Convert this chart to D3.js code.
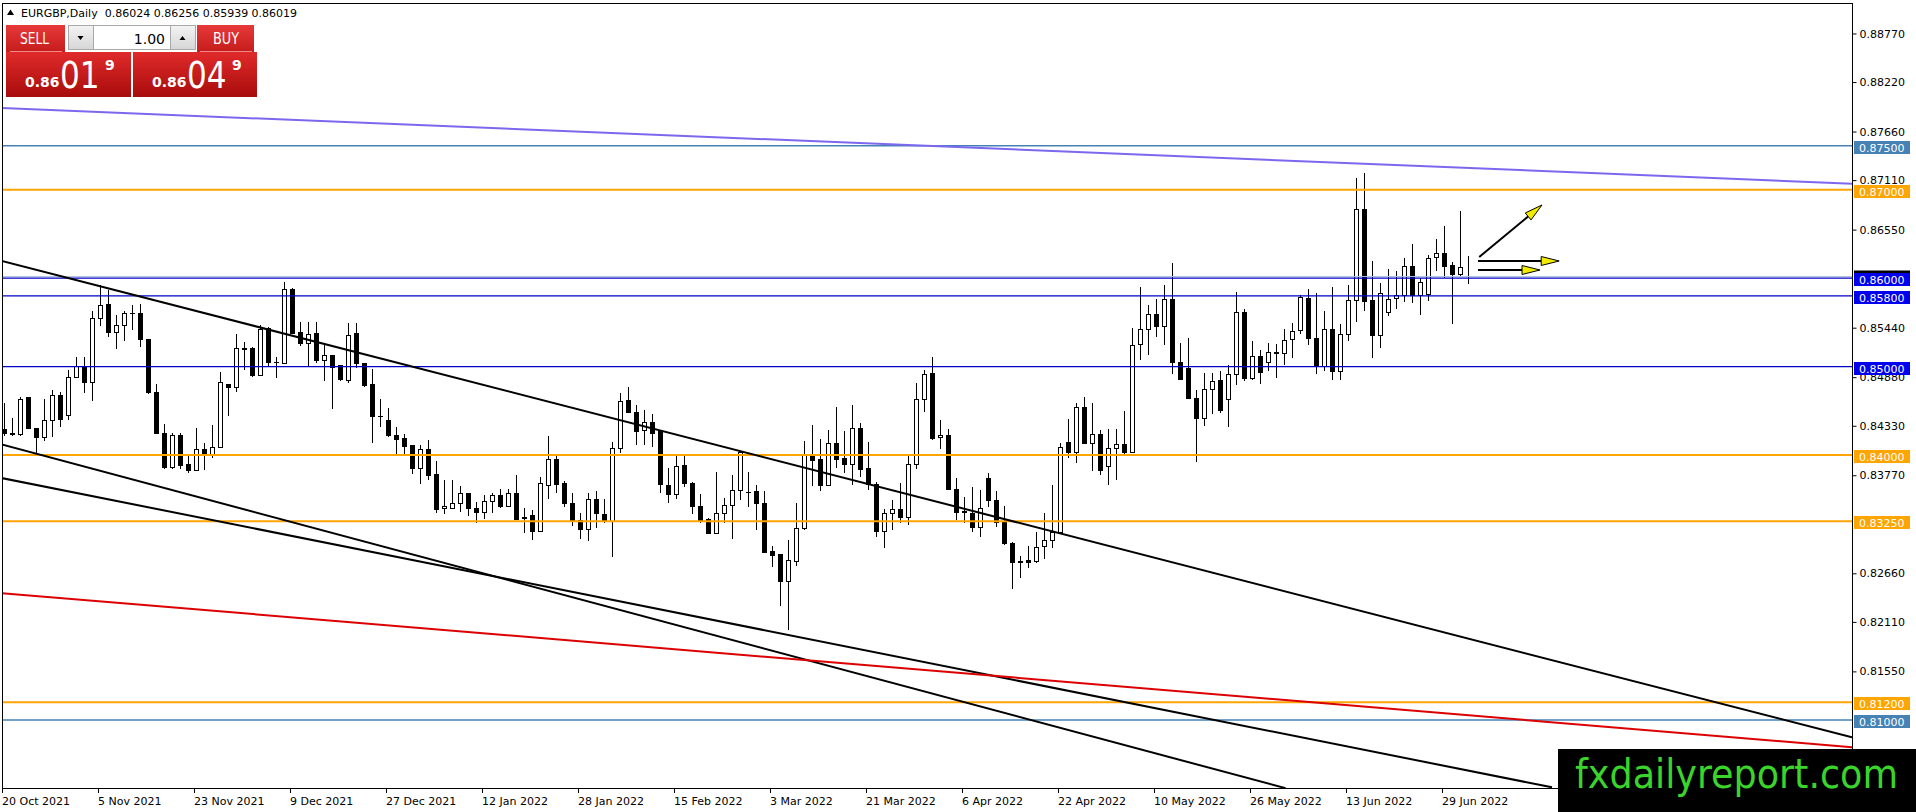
<html>
<head>
<meta charset="utf-8">
<script src="https://cdn.jsdelivr.net/npm/d3@7"></script>
<style>
  body { margin: 0; background: #fff; }
  svg { display: block; }
  text { font-family: "DejaVu Sans", sans-serif; }
</style>
</head>
<body>
<script>
// EURGBP daily bars
var opens = [0.84283,0.84234,0.84227,0.84645,0.84302,0.84200,0.84385,0.84675,0.84446,0.84879,
  0.85003,0.84819,0.85543,0.85697,0.85388,0.85467,0.85599,0.85599,0.85309,0.84706,
  0.84246,0.83861,0.84219,0.83888,0.83827,0.84057,0.84008,0.84087,0.84800,0.84766,
  0.85203,0.85200,0.84898,0.85433,0.85049,0.85037,0.85867,0.85388,0.85264,0.85369,
  0.85068,0.85120,0.85007,0.84838,0.85369,0.85037,0.84792,0.84434,0.84385,0.84223,
  0.84181,0.84102,0.83849,0.84057,0.83774,0.83390,0.83397,0.83454,0.83559,0.83397,
  0.83348,0.83472,0.83537,0.83416,0.83559,0.83292,0.83310,0.83133,0.83653,0.83944,
  0.83680,0.83454,0.83258,0.83160,0.83499,0.83329,0.83243,0.84076,0.84611,0.84483,
  0.84272,0.84370,0.84264,0.83650,0.83555,0.83876,0.83680,0.83416,0.83273,0.83114,
  0.83333,0.83424,0.83597,0.83574,0.83586,0.83454,0.82903,0.82870,0.82568,0.82794,
  0.83164,0.83989,0.83944,0.83650,0.84132,0.83959,0.83887,0.84302,0.83850,0.83661,
  0.83133,0.83341,0.83386,0.83292,0.83895,0.84623,0.84917,0.84197,0.84215,0.83612,
  0.83360,0.83341,0.83182,0.83737,0.83484,0.83235,0.83001,0.82790,0.82802,0.82794,
  0.82964,0.83028,0.83122,0.84144,0.84031,0.84540,0.84132,0.84234,0.83869,0.84076,
  0.84123,0.84032,0.85246,0.85416,0.85593,0.85457,0.85755,0.85046,0.84975,0.84643,
  0.84417,0.84745,0.84839,0.84624,0.84907,0.85616,0.84869,0.85114,0.85050,0.85160,
  0.85152,0.85303,0.85405,0.85774,0.85322,0.85001,0.85423,0.84945,0.85359,0.85744,
  0.86781,0.85744,0.85352,0.85616,0.85767,0.85804,0.86132,0.85800,0.85819,0.86234,
  0.86283,0.86140,0.86045,0.86024];
var highs = [0.84585,0.84415,0.84660,0.84650,0.84305,0.84630,0.84736,0.84713,0.84962,0.85113,
  0.85105,0.85629,0.85923,0.85867,0.85584,0.85626,0.85701,0.85708,0.85312,0.84804,
  0.84351,0.84253,0.84246,0.84001,0.84306,0.84133,0.84340,0.84943,0.84803,0.85365,
  0.85275,0.85226,0.85471,0.85452,0.85105,0.85954,0.85886,0.85509,0.85501,0.85501,
  0.85264,0.85123,0.85010,0.85490,0.85490,0.85040,0.84969,0.84630,0.84528,0.84321,
  0.84238,0.84105,0.84113,0.84170,0.83932,0.83718,0.83718,0.83650,0.83567,0.83472,
  0.83548,0.83567,0.83612,0.83612,0.83774,0.83397,0.83378,0.83755,0.84215,0.83989,
  0.83710,0.83567,0.83341,0.83567,0.83586,0.83499,0.84151,0.84698,0.84766,0.84566,
  0.84509,0.84464,0.84283,0.83850,0.83989,0.83989,0.83699,0.83559,0.83284,0.83812,
  0.83510,0.83774,0.84038,0.83812,0.83661,0.83586,0.82971,0.82873,0.83039,0.83461,
  0.84163,0.84340,0.84178,0.84283,0.84547,0.84276,0.84566,0.84359,0.84151,0.83699,
  0.83386,0.83492,0.83680,0.83989,0.84811,0.84962,0.85113,0.84396,0.84298,0.83737,
  0.83529,0.83642,0.83605,0.83793,0.83586,0.83424,0.83009,0.82851,0.82964,0.83133,
  0.83341,0.83661,0.84132,0.84404,0.84592,0.84653,0.84592,0.84283,0.84291,0.84291,
  0.84492,0.85435,0.85902,0.85699,0.85763,0.85925,0.86177,0.85265,0.85322,0.84737,
  0.84926,0.84926,0.84945,0.85020,0.85849,0.85653,0.85284,0.85190,0.85265,0.85254,
  0.85427,0.85491,0.85812,0.85876,0.85831,0.85631,0.85898,0.85480,0.85925,0.87131,
  0.87188,0.86200,0.85944,0.86102,0.86083,0.86226,0.86385,0.86000,0.86264,0.86445,
  0.86592,0.86181,0.86762,0.86256];
var lows = [0.84219,0.84219,0.84219,0.84291,0.84027,0.84152,0.84208,0.84314,0.84397,0.84870,
  0.84706,0.84611,0.85463,0.85339,0.85196,0.85294,0.85414,0.85226,0.84691,0.84240,
  0.83839,0.83846,0.83839,0.83793,0.83820,0.83831,0.83963,0.84076,0.84446,0.84717,
  0.84962,0.84887,0.84895,0.85000,0.84868,0.85030,0.85375,0.85233,0.85000,0.85045,
  0.84841,0.84517,0.84841,0.84819,0.84981,0.84774,0.84132,0.84321,0.84208,0.84012,
  0.84012,0.83782,0.83672,0.83718,0.83341,0.83333,0.83394,0.83359,0.83303,0.83227,
  0.83273,0.83348,0.83397,0.83408,0.83262,0.83114,0.83039,0.83130,0.83499,0.83567,
  0.83416,0.83190,0.83046,0.83031,0.83171,0.83235,0.82839,0.84027,0.84471,0.84113,
  0.84113,0.84087,0.83567,0.83454,0.83499,0.83642,0.83333,0.83235,0.83107,0.83110,
  0.83235,0.83046,0.83491,0.83416,0.83152,0.82900,0.82737,0.82293,0.82021,0.82745,
  0.83152,0.83650,0.83586,0.83647,0.83850,0.83793,0.83661,0.83755,0.83605,0.83069,
  0.82945,0.83152,0.83235,0.83209,0.83838,0.84491,0.84170,0.84065,0.83605,0.83265,
  0.83228,0.83122,0.83069,0.83409,0.83182,0.82983,0.82481,0.82606,0.82719,0.82775,
  0.82820,0.82945,0.83118,0.83963,0.83914,0.84128,0.83823,0.83774,0.83661,0.83718,
  0.83983,0.84021,0.85077,0.85133,0.85340,0.85239,0.84914,0.84850,0.84632,0.83919,
  0.84323,0.84462,0.84473,0.84311,0.84786,0.84832,0.84850,0.84801,0.84945,0.84869,
  0.85013,0.85095,0.85367,0.85246,0.84914,0.84945,0.84843,0.84850,0.85295,0.85510,
  0.85634,0.85095,0.85208,0.85567,0.85653,0.85729,0.85718,0.85586,0.85744,0.86083,
  0.86008,0.85484,0.86027,0.85939];
var closes = [0.84238,0.84238,0.84623,0.84298,0.84197,0.84385,0.84675,0.84404,0.84879,0.85003,
  0.84819,0.85543,0.85686,0.85384,0.85467,0.85603,0.85595,0.85309,0.84706,0.84246,
  0.83857,0.84219,0.83876,0.83823,0.84057,0.84008,0.84087,0.84823,0.84766,0.85207,
  0.85196,0.84894,0.85422,0.85045,0.85041,0.85867,0.85377,0.85264,0.85365,0.85068,
  0.85120,0.84992,0.84849,0.85354,0.85037,0.84781,0.84434,0.84430,0.84215,0.84177,
  0.84095,0.83849,0.84057,0.83767,0.83386,0.83412,0.83454,0.83559,0.83397,0.83348,
  0.83472,0.83537,0.83416,0.83559,0.83265,0.83284,0.83133,0.83672,0.83944,0.83669,
  0.83454,0.83258,0.83160,0.83499,0.83333,0.83243,0.84076,0.84603,0.84483,0.84264,
  0.84370,0.84245,0.83669,0.83555,0.83868,0.83672,0.83416,0.83258,0.83114,0.83333,
  0.83424,0.83597,0.84027,0.83570,0.83454,0.82900,0.82862,0.82568,0.82805,0.83164,
  0.83989,0.83936,0.83650,0.84132,0.83944,0.83887,0.84302,0.83838,0.83661,0.83133,
  0.83341,0.83386,0.83292,0.83895,0.84623,0.84905,0.84185,0.84215,0.83612,0.83348,
  0.83348,0.83182,0.83393,0.83484,0.83235,0.83001,0.82787,0.82787,0.82787,0.82956,
  0.83028,0.83122,0.84087,0.84031,0.84540,0.84132,0.84234,0.83823,0.84076,0.84114,
  0.84032,0.85239,0.85423,0.85593,0.85457,0.85755,0.85046,0.84858,0.84643,0.84417,
  0.84745,0.84832,0.84504,0.84907,0.85616,0.84869,0.85114,0.84937,0.85160,0.85152,
  0.85295,0.85397,0.85782,0.85322,0.85001,0.85423,0.84945,0.85367,0.85744,0.86781,
  0.85736,0.85352,0.85831,0.85763,0.85804,0.86132,0.85804,0.85955,0.86226,0.86283,
  0.86132,0.86045,0.86125,0.86019];

var firstDay = "2021-10-20";
var dateTicks = ["20 Oct 2021","5 Nov 2021","23 Nov 2021","9 Dec 2021","27 Dec 2021","12 Jan 2022",
  "28 Jan 2022","15 Feb 2022","3 Mar 2022","21 Mar 2022","6 Apr 2022","22 Apr 2022",
  "10 May 2022","26 May 2022","13 Jun 2022","29 Jun 2022"];
// visible scale labels (the ones under the level tags are hidden in the original)
var priceTicks = [0.88770,0.88220,0.87660,0.87110,0.86550,0.85440,0.84880,
  0.84330,0.83770,0.82660,0.82110,0.81550];

// horizontal levels and their kind
var levels = [0.87500,0.87000,0.86000,0.85800,0.85000,0.84000,0.83250,0.81200,0.81000];
var levelKinds = ["steel","orange","blue","blue","blue","orange","orange","orange","steel"];
var bid = 0.86019;

// trend lines: [barIndex, price] -> [barIndex, price]
var trendLines = [
  {kind: "purple", a: [-0.5, 0.87927], b: [231, 0.87070]},
  {kind: "black",  a: [-0.5, 0.86201], b: [231, 0.80803]},
  {kind: "black",  a: [-0.5, 0.84124], b: [160.2, 0.80228]},
  {kind: "black",  a: [-0.5, 0.83742], b: [193.5, 0.80238]},
  {kind: "red",    a: [-0.5, 0.82437], b: [231, 0.80691]}
];
var arrows = [
  {a: [184.4, 0.86240], b: [192.25, 0.86829]},
  {a: [184.25, 0.86195], b: [194.4, 0.86195]},
  {a: [184.25, 0.86093], b: [192.0, 0.86093]}
];

var W = 1916, H = 812;
var plotL = 2, plotR = 1852, plotT = 3, plotB = 788;

var styles = {
  steel:  {stroke: "#4682B4", w: 1.5, label: "#4682B4"},
  orange: {stroke: "#FFA500", w: 2,   label: "#FFA500"},
  blue:   {stroke: "#0000C8", w: 1.2, label: "#0000EE"},
  purple: {stroke: "#7B68EE", w: 2},
  black:  {stroke: "#000000", w: 2},
  red:    {stroke: "#DC0000", w: 2}
};

// bar dates: consecutive weekdays
var dates = [];
var d = new Date(firstDay + "T00:00:00");
while (dates.length < opens.length) {
  if (d.getDay() != 0 && d.getDay() != 6) dates.push(new Date(d));
  d.setDate(d.getDate() + 1);
}
var fmt = d3.timeFormat("%-d %b %Y");

var x = d3.scaleLinear().domain([-0.5, 231]).range([0, plotR]);
var y = d3.scaleLinear().domain([0.80230, 0.89115]).range([plotB, plotT]);

var svg = d3.select("body").append("svg")
  .attr("width", W).attr("height", H);

var defs = svg.append("defs");
defs.append("clipPath").attr("id", "plotclip")
  .append("rect").attr("x", plotL).attr("y", plotT)
  .attr("width", plotR - plotL).attr("height", plotB - plotT);
function grad(id, c1, c2) {
  var g = defs.append("linearGradient").attr("id", id)
    .attr("x1", 0).attr("y1", 0).attr("x2", 0).attr("y2", 1);
  g.append("stop").attr("offset", "0%").attr("stop-color", c1);
  g.append("stop").attr("offset", "100%").attr("stop-color", c2);
}
grad("redbtn", "#E8393A", "#C51C1C");
grad("redbox", "#E02A2A", "#A80C0C");
grad("graybtn", "#F4F4F4", "#D6D6D6");

// candles
var bars = d3.range(opens.length).map(function(i) {
  return {i: i, o: opens[i], h: highs[i], l: lows[i], c: closes[i]};
});
var gc = svg.append("g").attr("clip-path", "url(#plotclip)")
  .attr("shape-rendering", "crispEdges");
var cg = gc.selectAll("g.bar").data(bars).enter().append("g").attr("class", "bar");
cg.append("line")
  .attr("x1", function(b) { return Math.round(x(b.i)) + 0.5; })
  .attr("x2", function(b) { return Math.round(x(b.i)) + 0.5; })
  .attr("y1", function(b) { return y(b.h); })
  .attr("y2", function(b) { return y(b.l); })
  .attr("stroke", "#000");
cg.append("rect")
  .attr("x", function(b) { return Math.round(x(b.i)) - 1.5; })
  .attr("width", 4)
  .attr("y", function(b) { return y(Math.max(b.o, b.c)); })
  .attr("height", function(b) { return Math.max(0, y(Math.min(b.o, b.c)) - y(Math.max(b.o, b.c))); })
  .attr("fill", function(b) { return b.c >= b.o ? "#fff" : "#000"; })
  .attr("stroke", "#000");

// levels
var gl = svg.append("g").attr("clip-path", "url(#plotclip)");
gl.append("line").attr("x1", plotL).attr("x2", plotR)
  .attr("y1", y(bid)).attr("y2", y(bid))
  .attr("stroke", "#B0C4DE").attr("stroke-width", 1);
gl.selectAll("line.lvl").data(levels).enter().append("line").attr("class", "lvl")
  .attr("x1", plotL).attr("x2", plotR)
  .attr("y1", function(v) { return y(v); }).attr("y2", function(v) { return y(v); })
  .attr("stroke", function(v, k) { return styles[levelKinds[k]].stroke; })
  .attr("stroke-width", function(v, k) { return styles[levelKinds[k]].w; });

// trend lines
gl.selectAll("line.tr").data(trendLines).enter().append("line").attr("class", "tr")
  .attr("x1", function(t) { return x(t.a[0]); }).attr("y1", function(t) { return y(t.a[1]); })
  .attr("x2", function(t) { return x(t.b[0]); }).attr("y2", function(t) { return y(t.b[1]); })
  .attr("stroke", function(t) { return styles[t.kind].stroke; })
  .attr("stroke-width", function(t) { return styles[t.kind].w; });

// arrows
arrows.forEach(function(a) {
  var x1 = x(a.a[0]), y1 = y(a.a[1]), x2 = x(a.b[0]), y2 = y(a.b[1]);
  var ang = Math.atan2(y2 - y1, x2 - x1);
  var len = 18, hw = 4.5;
  var bx = x2 - len * Math.cos(ang), by = y2 - len * Math.sin(ang);
  var px = -Math.sin(ang) * hw, py = Math.cos(ang) * hw;
  svg.append("line").attr("x1", x1).attr("y1", y1).attr("x2", bx).attr("y2", by)
    .attr("stroke", "#000").attr("stroke-width", 2);
  svg.append("path")
    .attr("d", "M" + x2 + "," + y2 + "L" + (bx + px) + "," + (by + py) + "L" + (bx - px) + "," + (by - py) + "Z")
    .attr("fill", "#F2EA00").attr("stroke", "#000").attr("stroke-width", 1);
});

// frame
svg.append("rect").attr("x", plotL + 0.5).attr("y", plotT + 0.5)
  .attr("width", plotR - plotL).attr("height", plotB - plotT)
  .attr("fill", "none").attr("stroke", "#000").attr("stroke-width", 1)
  .attr("shape-rendering", "crispEdges");

// price axis
var ya = svg.append("g").attr("transform", "translate(" + (plotR + 0.5) + ",0)")
  .call(d3.axisRight(y).tickValues(priceTicks).tickFormat(d3.format(".5f"))
    .tickSize(4).tickSizeOuter(0).tickPadding(3));
ya.select(".domain").remove();
ya.selectAll("text").attr("font-family", "DejaVu Sans").attr("font-size", 11).attr("fill", "#000");
ya.selectAll("line").attr("stroke", "#000");
svg.append("line").attr("x1", plotR + 0.5).attr("x2", plotR + 0.5)
  .attr("y1", plotT).attr("y2", plotB + 1).attr("stroke", "#000");

// level tags; the bid tag only peeks above the 0.86 tag
svg.append("rect").attr("x", plotR + 2).attr("y", Math.round(y(bid)) - 6.5)
  .attr("width", 56).attr("height", 4).attr("fill", "#000");
levels.forEach(function(v, k) {
  var yy = Math.round(y(v));
  svg.append("rect").attr("x", plotR + 2).attr("y", yy - 5).attr("width", 56).attr("height", 13)
    .attr("fill", styles[levelKinds[k]].label);
  svg.append("text").attr("x", plotR + 7).attr("y", yy + 6)
    .attr("font-size", 11).attr("fill", "#fff").text(d3.format(".5f")(v));
});

// date axis
var tickIdx = dateTicks.map(function(s) {
  for (var i = 0; i < dates.length; i++) if (fmt(dates[i]) == s) return i;
  return -1;
}).filter(function(i) { return i >= 0; });
var xa = svg.append("g");
xa.selectAll("line").data(tickIdx).enter().append("line")
  .attr("x1", function(i) { return Math.round(x(i)) - 1.5; })
  .attr("x2", function(i) { return Math.round(x(i)) - 1.5; })
  .attr("y1", plotB).attr("y2", plotB + 5).attr("stroke", "#000");
xa.selectAll("text").data(tickIdx).enter().append("text")
  .attr("x", function(i) { return Math.round(x(i)) - 2; })
  .attr("y", plotB + 17)
  .attr("font-size", 11).attr("fill", "#000")
  .text(function(i) { return fmt(dates[i]); });

// title line
svg.append("path").attr("d", "M7,15L10.5,9.5L14,15Z").attr("fill", "#000");
svg.append("text").attr("x", 21).attr("y", 17).attr("font-size", 11)
  .style("white-space", "pre")
  .text("EURGBP,Daily  " + [opens[183], highs[183], lows[183], closes[183]].map(d3.format(".5f")).join(" "));

// one-click trading panel
var p = svg.append("g");
p.append("rect").attr("x", 6).attr("y", 25).attr("width", 59).attr("height", 27).attr("fill", "url(#redbtn)");
p.append("rect").attr("x", 197).attr("y", 25).attr("width", 57).attr("height", 27).attr("fill", "url(#redbtn)");
p.append("rect").attr("x", 6).attr("y", 52).attr("width", 125).attr("height", 45).attr("fill", "url(#redbox)");
p.append("rect").attr("x", 133).attr("y", 52).attr("width", 124).attr("height", 45).attr("fill", "url(#redbox)");
p.append("line").attr("x1", 10).attr("x2", 62).attr("y1", 51.5).attr("y2", 51.5).attr("stroke", "#F08A8A");
p.append("line").attr("x1", 200).attr("x2", 252).attr("y1", 51.5).attr("y2", 51.5).attr("stroke", "#F08A8A");
p.append("rect").attr("x", 68.5).attr("y", 25.5).attr("width", 25).attr("height", 24)
  .attr("fill", "url(#graybtn)").attr("stroke", "#A8A8A8");
p.append("rect").attr("x", 93.5).attr("y", 25.5).attr("width", 77).attr("height", 24)
  .attr("fill", "#fff").attr("stroke", "#A8A8A8");
p.append("rect").attr("x", 170.5).attr("y", 25.5).attr("width", 25).attr("height", 24)
  .attr("fill", "url(#graybtn)").attr("stroke", "#A8A8A8");
p.append("path").attr("d", "M77.5,36L83.5,36L80.5,40Z").attr("fill", "#000");
p.append("path").attr("d", "M179.5,40L185.5,40L182.5,36Z").attr("fill", "#000");
p.append("text").attr("x", 165).attr("y", 44).attr("text-anchor", "end")
  .attr("font-family", "Open Sans").attr("font-size", 14).attr("fill", "#000").text("1.00");
p.append("text").attr("x", 20).attr("y", 44).attr("textLength", 29).attr("lengthAdjust", "spacingAndGlyphs")
  .attr("font-family", "Open Sans").attr("font-size", 15).attr("fill", "#fff").text("SELL");
p.append("text").attr("x", 213).attr("y", 44).attr("textLength", 26).attr("lengthAdjust", "spacingAndGlyphs")
  .attr("font-family", "Open Sans").attr("font-size", 15).attr("fill", "#fff").text("BUY");
function quote(x0, big, small) {
  p.append("text").attr("x", x0).attr("y", 87).attr("font-family", "Open Sans").attr("font-weight", "bold")
    .attr("font-size", 14).attr("fill", "#fff").text("0.86");
  p.append("text").attr("transform", "translate(" + (x0 + 35) + ",88) scale(0.82,1)")
    .attr("font-family", "Open Sans").attr("font-size", 38)
    .attr("fill", "#fff").text(big);
  p.append("text").attr("x", x0 + 80).attr("y", 70).attr("font-family", "Open Sans").attr("font-weight", "bold")
    .attr("font-size", 14).attr("fill", "#fff").text(small);
}
quote(25, "01", "9");
quote(152, "04", "9");

// watermark
svg.append("rect").attr("x", 1558).attr("y", 749).attr("width", W - 1558).attr("height", H - 749).attr("fill", "#000");
svg.append("text").attr("x", 1575).attr("y", 788)
  .attr("font-family", "Liberation Sans, Arial, sans-serif").attr("font-size", 40)
  .attr("textLength", 323).attr("lengthAdjust", "spacingAndGlyphs")
  .attr("fill", "#3BD42B").text("fxdailyreport.com");
</script>
</body>
</html>
